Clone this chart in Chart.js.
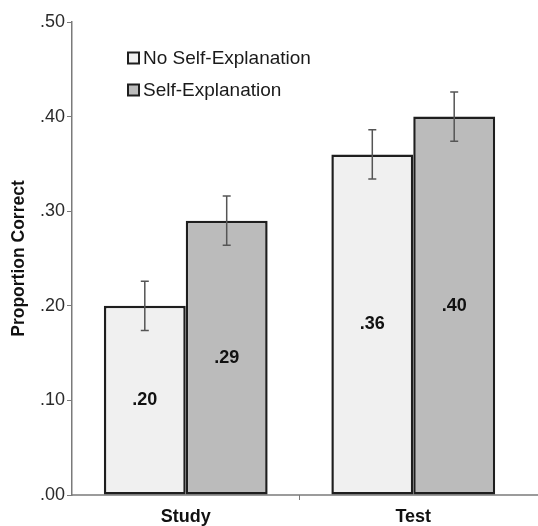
<!DOCTYPE html>
<html>
<head>
<meta charset="utf-8">
<script src="https://cdn.jsdelivr.net/npm/chart.js@4/dist/chart.umd.min.js"></script>
<style>
  body { margin: 0; background: #fff; }
  #wrap { width: 538px; height: 526px; }
</style>
</head>
<body>
<div id="wrap"><canvas id="chart" width="538" height="526"></canvas></div>
<script>
var categories = ['Study', 'Test'];
var seriesNames = ['No Self-Explanation', 'Self-Explanation'];
var noSelfExplanation = [0.20, 0.36];
var selfExplanation = [0.29, 0.40];
var noSelfErr = [0.026, 0.026];
var selfErr = [0.026, 0.026];
var valueLabels = [['.20', '.36'], ['.29', '.40']];
var yTicks = [0, 0.1, 0.2, 0.3, 0.4, 0.5];

var fontFamily = '"Liberation Sans", Arial, Helvetica, sans-serif';
var lightFill = '#f0f0f0';
var darkFill = '#bbbbbb';
var edge = '#1e1e1e';
var axisGray = '#7a7a7a';

var errors = [noSelfErr, selfErr];

// x axis baseline, drawn under the bars and on to the right edge
var baselinePlugin = {
    id: 'baseline',
    beforeDatasetsDraw: function (chart) {
        var ctx = chart.ctx;
        var yb = chart.scales.y.getPixelForValue(0);
        ctx.save();
        ctx.strokeStyle = axisGray;
        ctx.lineWidth = 1.5;
        ctx.beginPath();
        ctx.moveTo(chart.chartArea.left, yb);
        ctx.lineTo(chart.width, yb);
        ctx.stroke();
        ctx.restore();
    }
};

var errorBarPlugin = {
    id: 'errorBars',
    afterDatasetsDraw: function (chart) {
        var ctx = chart.ctx;
        var y = chart.scales.y;
        ctx.save();
        ctx.strokeStyle = '#555';
        ctx.lineWidth = 1.5;
        chart.data.datasets.forEach(function (ds, di) {
            var meta = chart.getDatasetMeta(di);
            meta.data.forEach(function (bar, i) {
                var v = ds.data[i];
                var e = errors[di][i];
                var top = y.getPixelForValue(v + e);
                var bot = y.getPixelForValue(v - e);
                ctx.beginPath();
                ctx.moveTo(bar.x, top);
                ctx.lineTo(bar.x, bot);
                ctx.moveTo(bar.x - 4, top);
                ctx.lineTo(bar.x + 4, top);
                ctx.moveTo(bar.x - 4, bot);
                ctx.lineTo(bar.x + 4, bot);
                ctx.stroke();
            });
        });
        ctx.restore();
    }
};

var valueLabelPlugin = {
    id: 'valueLabels',
    afterDatasetsDraw: function (chart) {
        var ctx = chart.ctx;
        ctx.save();
        ctx.font = 'bold 18px ' + fontFamily;
        ctx.fillStyle = '#111';
        ctx.textAlign = 'center';
        ctx.textBaseline = 'middle';
        chart.data.datasets.forEach(function (ds, di) {
            var meta = chart.getDatasetMeta(di);
            meta.data.forEach(function (bar, i) {
                ctx.fillText(valueLabels[di][i], bar.x, (bar.y + bar.base) / 2);
            });
        });
        ctx.restore();
    }
};

var legendPlugin = {
    id: 'insideLegend',
    afterDraw: function (chart) {
        var ctx = chart.ctx;
        var fills = [lightFill, darkFill];
        var rows = [58, 90];
        ctx.save();
        ctx.font = '19px ' + fontFamily;
        ctx.textBaseline = 'middle';
        ctx.textAlign = 'left';
        seriesNames.forEach(function (name, i) {
            ctx.fillStyle = fills[i];
            ctx.fillRect(128, rows[i] - 5.5, 11, 11);
            ctx.strokeStyle = edge;
            ctx.lineWidth = 2;
            ctx.strokeRect(128, rows[i] - 5.5, 11, 11);
            ctx.fillStyle = '#1a1a1a';
            ctx.fillText(name, 143, rows[i] + 1);
        });
        ctx.restore();
    }
};

new Chart(document.getElementById('chart'), {
    type: 'bar',
    data: {
        labels: categories,
        datasets: [{
            label: seriesNames[0],
            data: noSelfExplanation,
            backgroundColor: lightFill,
            borderColor: edge,
            borderWidth: 2.5,
            borderSkipped: false
        }, {
            label: seriesNames[1],
            data: selfExplanation,
            backgroundColor: darkFill,
            borderColor: edge,
            borderWidth: 2.5,
            borderSkipped: false
        }]
    },
    options: {
        responsive: false,
        animation: false,
        layout: { padding: { top: 22, right: 11, left: 0, bottom: 0 } },
        datasets: { bar: { categoryPercentage: 0.72, barPercentage: 1.0 } },
        plugins: {
            legend: { display: false },
            tooltip: { enabled: false }
        },
        scales: {
            x: {
                grid: {
                    offset: true,
                    drawOnChartArea: false,
                    tickLength: 5,
                    color: function (c) { return c.index === 1 ? axisGray : 'rgba(0,0,0,0)'; }
                },
                border: { display: false },
                ticks: {
                    color: '#111',
                    padding: 6,
                    font: { family: fontFamily, size: 18, weight: 'bold' }
                },
                afterFit: function (scale) { scale.height = 31; }
            },
            y: {
                min: 0,
                max: 0.5,
                afterBuildTicks: function (scale) {
                    scale.ticks = yTicks.map(function (v) { return { value: v }; });
                },
                grid: { drawOnChartArea: false, tickLength: 5, color: axisGray },
                border: { color: axisGray, width: 1.5 },
                ticks: {
                    color: '#2a2a2a',
                    padding: 2,
                    font: { family: fontFamily, size: 18 },
                    callback: function (v) { return v.toFixed(2).replace(/^0/, ''); }
                },
                title: {
                    display: true,
                    text: 'Proportion Correct',
                    color: '#111',
                    padding: { top: 9, bottom: 0 },
                    font: { family: fontFamily, size: 17.5, weight: 'bold' }
                },
                afterFit: function (scale) { scale.width = 72; }
            }
        }
    },
    plugins: [baselinePlugin, errorBarPlugin, valueLabelPlugin, legendPlugin]
});
</script>
</body>
</html>
